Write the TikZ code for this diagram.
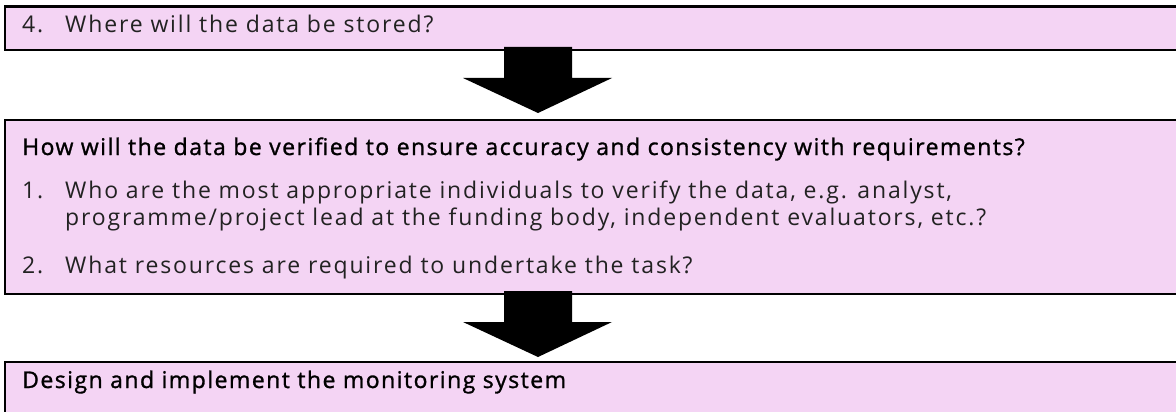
\documentclass[tikz,border=0pt]{standalone}
\usepackage{fontspec}
\setmainfont[LetterSpace=8]{Open Sans}
\newfontfamily\headfont[FakeBold=1.2,LetterSpace=6.4]{Open Sans}
\definecolor{boxpink}{HTML}{F4D4F4}
\definecolor{ink}{HTML}{222222}
\tikzset{
  stage/.style={draw=black, line width=2.5pt, fill=boxpink},
  txt/.style={anchor=base west, inner sep=0pt, text=ink, font=\fontsize{23}{27}\selectfont},
  head/.style={txt, text=black, font=\fontsize{23}{27}\selectfont\headfont},
  flow/.style={fill=black}
}
\begin{document}
\begin{tikzpicture}[x=1pt,y=-1pt]
\useasboundingbox (0,0) rectangle (1176,412);
% boxes
\path[stage] (5,6.5) rectangle (1190,50);
\path[stage] (5,120) rectangle (1190,294);
\path[stage] (5,362) rectangle (1190,430);
% texts
\node[txt] (n4) at (22,33) {4.};
\node[txt] (q4) at (65,33) {Where will the data be stored?};
\node[head] (verify) at (22,155) {How will the data be verified to ensure accuracy and consistency with requirements?};
\node[txt] (n1) at (22,198) {1.};
\node[txt] (q1a) at (65,198) {Who are the most appropriate individuals to verify the data, e.g. analyst,};
\node[txt] (q1b) at (65,225) {programme/project lead at the funding body, independent evaluators, etc.?};
\node[txt] (n2) at (22,273) {2.};
\node[txt] (q2) at (65,273) {What resources are required to undertake the task?};
\node[head] (design) at (22,388) {Design and implement the monitoring system};
% arrows
\fill[flow] (504,47) -- (572,47) -- (572,78) -- (612,78) -- (538,113) -- (463,78) -- (504,78) -- cycle;
\fill[flow] (504,291) -- (572,291) -- (572,322) -- (612,322) -- (538,357) -- (463,322) -- (504,322) -- cycle;
\end{tikzpicture}
\end{document}
